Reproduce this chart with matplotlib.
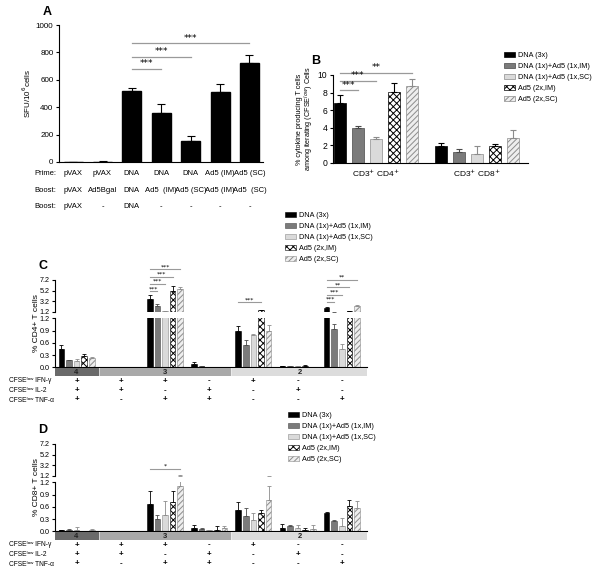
import numpy as np
import matplotlib
matplotlib.use('Agg')
import matplotlib.pyplot as plt
from matplotlib.transforms import blended_transform_factory as btf

plt.rcParams['font.family'] = ['Liberation Sans', 'DejaVu Sans']
plt.rcParams['hatch.linewidth'] = 0.7
plt.rcParams['axes.linewidth'] = 0.8

# ---------------- data ----------------
series_labels = ['DNA (3x)', 'DNA (1x)+Ad5 (1x,IM)', 'DNA (1x)+Ad5 (1x,SC)',
                 'Ad5 (2x,IM)', 'Ad5 (2x,SC)']

A_prime = ['pVAX', 'pVAX', 'DNA', 'DNA', 'DNA', 'Ad5 (IM)', 'Ad5 (SC)']
A_boost1 = ['pVAX', 'Ad5Bgal', 'DNA', 'Ad5  (IM)', 'Ad5 (SC)', 'Ad5 (IM)', 'Ad5  (SC)']
A_boost2 = ['pVAX', '-', 'DNA', '-', '-', '-', '-']
A_values = [0, 3, 515, 355, 150, 510, 720]
A_err = [0, 2, 25, 65, 40, 60, 60]
A_sig = [(2, 3, 680, '***'), (2, 4, 770, '***'), (2, 6, 867, '***')]

B_groups = ['CD3$^{+}$ CD4$^{+}$', 'CD3$^{+}$ CD8$^{+}$']
B_cd4 = [6.8, 4.0, 2.7, 8.1, 8.8]
B_cd4_err = [0.9, 0.25, 0.2, 1.0, 0.7]
B_cd8 = [1.9, 1.3, 1.0, 1.9, 2.8]
B_cd8_err = [0.4, 0.3, 0.9, 0.3, 1.0]
B_sig = [(0, 1, 8.25, '***'), (0, 2, 9.35, '***'), (0, 4, 10.25, '**')]

cyt_rows = ['CFSEˡᵒʷ IFN-γ', 'CFSEˡᵒʷ IL-2', 'CFSEˡᵒʷ TNF-α']
IFN_signs = ['+', '+', '+', '-', '+', '-', '-']
IL2_signs = ['+', '+', '-', '+', '-', '+', '-']
TNF_signs = ['+', '-', '+', '+', '-', '-', '+']
band_labels = ['4', '3', '2']
band_counts = [1, 3, 3]

C_vals = [[0.45, 0.01, 3.55, 0.07, 0.90, 0.03, 1.90],
          [0.17, 0.01, 2.35, 0.03, 0.55, 0.02, 0.94],
          [0.15, 0.00, 1.33, 0.00, 0.78, 0.03, 0.45],
          [0.27, 0.00, 5.10, 0.00, 1.45, 0.03, 1.25],
          [0.22, 0.00, 5.45, 0.00, 0.89, 0.01, 2.30]]
C_errs = [[0.09, 0.0, 0.85, 0.05, 0.11, 0.01, 0.15],
          [0.01, 0.0, 0.35, 0.01, 0.12, 0.00, 0.12],
          [0.05, 0.0, 0.05, 0.00, 0.04, 0.01, 0.11],
          [0.06, 0.0, 1.00, 0.00, 0.10, 0.02, 0.10],
          [0.03, 0.0, 0.50, 0.00, 0.15, 0.00, 0.10]]
C_sig = [(2, 0, 1, 5.06, '***'), (2, 0, 2, 6.45, '***'), (2, 0, 3, 7.83, '***'),
         (2, 0, 4, 9.23, '***'), (4, 0, 3, 2.98, '***'),
         (6, 0, 1, 3.04, '***'), (6, 0, 2, 4.42, '***'), (6, 0, 3, 5.82, '**'),
         (6, 0, 4, 7.20, '**')]

D_vals = [[0.03, 0.005, 0.67, 0.08, 0.52, 0.08, 0.46],
          [0.04, 0.005, 0.30, 0.06, 0.38, 0.13, 0.26],
          [0.04, 0.00, 0.39, 0.02, 0.28, 0.08, 0.14],
          [0.01, 0.00, 0.72, 0.04, 0.44, 0.02, 0.62],
          [0.03, 0.00, 1.12, 0.07, 0.76, 0.05, 0.58]]
D_errs = [[0.01, 0.0, 0.31, 0.07, 0.20, 0.09, 0.02],
          [0.01, 0.0, 0.09, 0.01, 0.20, 0.02, 0.01],
          [0.06, 0.0, 0.36, 0.01, 0.17, 0.07, 0.18],
          [0.00, 0.0, 0.27, 0.10, 0.08, 0.05, 0.14],
          [0.03, 0.0, 0.25, 0.05, 0.36, 0.10, 0.16]]
D_sig = [(2, 0, 4, 2.5, '*')]

# ---------------- styles ----------------
styles = [dict(color='black', edgecolor='black'),
          dict(color='#7b7b7b', edgecolor='#4a4a4a'),
          dict(color='#dadada', edgecolor='#8c8c8c'),
          dict(color='white', edgecolor='black', hatch='xxxxx'),
          dict(color='#eeeeee', edgecolor='#8c8c8c', hatch='//////')]
ecolors = ['black', '#4a4a4a', '#8c8c8c', 'black', '#8c8c8c']
STAR_FONT = 'DejaVu Sans'

W, H = 600, 576
fig = plt.figure(figsize=(6, 5.76), dpi=100)


def fx(p):
    return p / W


def fy(p):
    return 1 - p / H


def box(l, t, r, b):
    return [fx(l), fy(b), (r - l) / W, (b - t) / H]


def style_axis(ax, fs=5.5):
    for s in ('top', 'right'):
        ax.spines[s].set_visible(False)
    ax.tick_params(axis='y', labelsize=fs, length=2.5, width=0.8, pad=1.5)
    ax.tick_params(axis='x', length=0)


def legend_at(x, y, handles):
    fig.legend(handles, series_labels, loc='upper left',
               bbox_to_anchor=(fx(x), fy(y)), frameon=False, fontsize=5.2,
               handlelength=1.5, handleheight=0.6, labelspacing=0.55,
               handletextpad=0.4, borderpad=0, borderaxespad=0)


# ---------------- Panel A ----------------
axA = fig.add_axes(box(59, 25, 263, 162))
xA = np.arange(len(A_values))
axA.bar(xA, A_values, 0.65, color='black', edgecolor='black',
        yerr=[np.zeros(len(A_err)), A_err],
        error_kw=dict(ecolor='black', elinewidth=0.8, capsize=3, capthick=0.8))
axA.set_xlim(-0.48, 6.46)
axA.set_ylim(0, 1000)
axA.set_yticks([0, 200, 400, 600, 800, 1000])
axA.set_xticks([])
style_axis(axA, 5.8)
axA.set_ylabel('SFU/10$^6$cells', fontsize=5.8, labelpad=2)
for a, b, y, s in A_sig:
    axA.plot([a, b], [y, y], color='#9a9a9a', lw=0.9)
    axA.text((a + b) / 2, y + 5, s, ha='center', va='bottom', fontsize=6.5,
             family=STAR_FONT)
tA = btf(axA.transData, fig.transFigure)
for row_y, name, labels in [(174, 'Prime:', A_prime), (191, 'Boost:', A_boost1),
                            (207, 'Boost:', A_boost2)]:
    fig.text(fx(34), fy(row_y), name, fontsize=5.5, va='center', ha='left')
    for i, lab in enumerate(labels):
        axA.text(i, fy(row_y), lab, transform=tA, fontsize=5.5, ha='center', va='center')
fig.text(fx(47), fy(12), 'A', fontsize=9, fontweight='bold', ha='center', va='center')

# ---------------- Panel B ----------------
axB = fig.add_axes(box(333, 75, 528, 163))
xcd4 = np.arange(5)
xcd8 = np.arange(5) + 5.64
handles = []
for j in range(5):
    axB.bar(xcd4[j], B_cd4[j], 0.67, yerr=[[0], [B_cd4_err[j]]], linewidth=0.5,
            error_kw=dict(ecolor=ecolors[j], elinewidth=0.8, capsize=2.5, capthick=0.8),
            **styles[j])
    h = axB.bar(xcd8[j], B_cd8[j], 0.67, yerr=[[0], [B_cd8_err[j]]], linewidth=0.5,
                error_kw=dict(ecolor=ecolors[j], elinewidth=0.8, capsize=2.5, capthick=0.8),
                **styles[j])
    handles.append(h.patches[0])
axB.set_xlim(-0.39, 10.5)
axB.set_ylim(0, 10)
axB.set_yticks([0, 2, 4, 6, 8, 10])
axB.set_xticks([xcd4[2], xcd8[2]])
axB.set_xticklabels(B_groups, fontsize=6)
style_axis(axB, 6.2)
axB.tick_params(axis='x', pad=3)
for a, b, y, s in B_sig:
    axB.plot([a, b], [y, y], color='#9a9a9a', lw=0.9, clip_on=False)
    axB.text((a + b) / 2, y + 0.05, s, ha='center', va='bottom', fontsize=6.5,
             family=STAR_FONT)
fig.text(fx(306), fy(119), '% cytokine producing T cells\namong iterating (CFSE$^{low}$) Cells',
         rotation=90, fontsize=5.2, ha='center', va='center', linespacing=1.0)
fig.text(fx(316), fy(61), 'B', fontsize=9, fontweight='bold', ha='center', va='center')
legend_at(504, 52, handles)


# ---------------- Panels C and D ----------------
def panel(y0, vals, errs, sigs, ylabel, letter, leg_xy):
    up = fig.add_axes(box(55, 280 + y0, 367, 311.7 + y0))
    lo = fig.add_axes(box(55, 318.3 + y0, 367, 367.3 + y0))
    ng = len(IFN_signs)
    x = np.arange(ng)
    off, w = 0.172, 0.125
    hs = []
    for j in range(5):
        for ax in (up, lo):
            b = ax.bar(x + (j - 2) * off, vals[j], w, yerr=[np.zeros(ng), errs[j]],
                       linewidth=0.4,
                       error_kw=dict(ecolor=ecolors[j], elinewidth=0.6, capsize=1.3,
                                     capthick=0.6),
                       **styles[j])
        hs.append(b.patches[0])
    for ax in (up, lo):
        ax.set_xlim(-0.49, 6.57)
        ax.set_xticks([])
        style_axis(ax, 5.2)
    up.set_ylim(1.2, 7.2)
    up.set_yticks([1.2, 3.2, 5.2, 7.2])
    up.spines['bottom'].set_visible(False)
    lo.set_ylim(0, 1.2)
    lo.set_yticks([0, 0.3, 0.6, 0.9, 1.2])
    lo.set_yticklabels(['0.0', '0.3', '0.6', '0.9', '1.2'])
    for g, a, b, y, s in sigs:
        xa, xb = g + (a - 2) * off, g + (b - 2) * off
        up.plot([xa, xb], [y, y], color='#9a9a9a', lw=0.8, clip_on=False)
        up.text((xa + xb) / 2, y + 0.02, s, ha='center', va='bottom', fontsize=4.5,
                family=STAR_FONT, clip_on=False)
    # category band
    band = fig.add_axes(box(55, 368 + y0, 367, 376 + y0))
    band.set_xlim(-0.49, 6.57)
    band.set_ylim(0, 1)
    band.axis('off')
    edges = np.concatenate([[-0.49], np.cumsum(band_counts)[:-1] - 0.5, [6.57]])
    band_colors = ['#6a6a6a', '#a9a9a9', '#dcdcdc']
    for i, lab in enumerate(band_labels):
        lft = edges[i] + (0.02 if i > 0 else 0)
        rgt = edges[i + 1] - (0.02 if i < len(band_labels) - 1 else 0)
        band.axvspan(lft, rgt, color=band_colors[i])
        band.text((lft + rgt) / 2, 0.5, lab, ha='center', va='center', fontsize=5.5,
                  fontweight='bold', color='#222222')
    tr = btf(lo.transData, fig.transFigure)
    rows_y = [381 + y0, 390.5 + y0, 400 + y0]
    for ry, name, signs in zip(rows_y, cyt_rows, [IFN_signs, IL2_signs, TNF_signs]):
        fig.text(fx(9), fy(ry), name, fontsize=4.8, ha='left', va='center')
        for i, sg in enumerate(signs):
            lo.text(i, fy(ry), sg, transform=tr, fontsize=5.8, fontweight='bold',
                    ha='center', va='center')
    fig.text(fx(37), fy(323 + y0), ylabel, rotation=90, fontsize=6, ha='center', va='center')
    fig.text(fx(43), fy(266 + y0), letter, fontsize=9, fontweight='bold', ha='center',
             va='center')
    legend_at(leg_xy[0], leg_xy[1], hs)


panel(0, C_vals, C_errs, C_sig, '% CD4+ T cells', 'C', (285, 212))
panel(164, D_vals, D_errs, D_sig, '% CD8+ T cells', 'D', (288, 412))

fig.savefig('out.png', dpi=100)
